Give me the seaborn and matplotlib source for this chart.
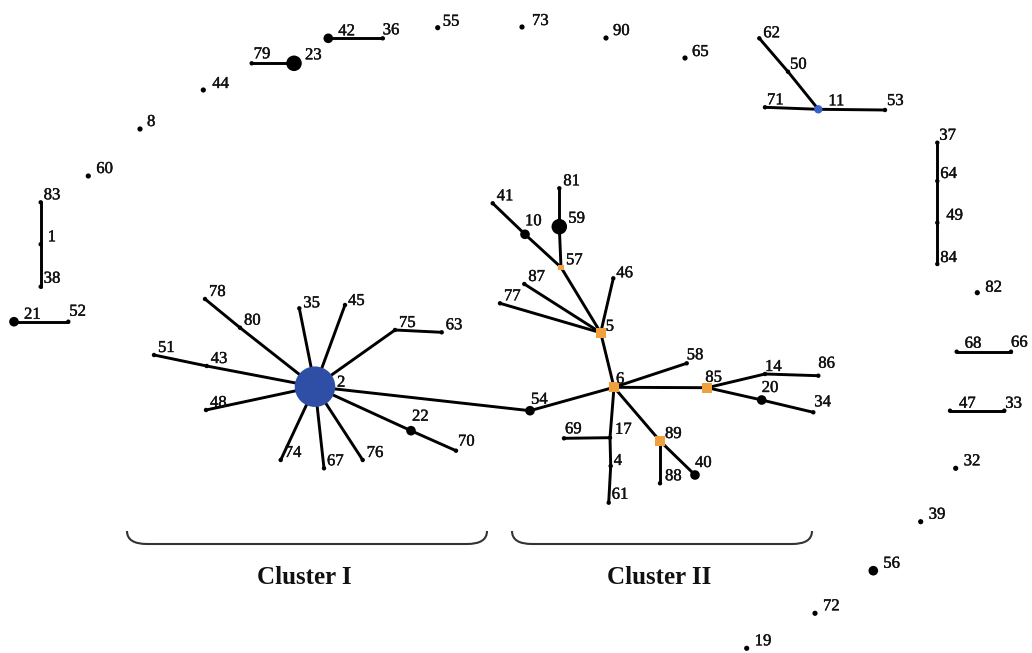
import matplotlib
matplotlib.use("Agg")
import matplotlib.pyplot as plt
import matplotlib.patheffects as pe
from matplotlib.path import Path
from matplotlib.patches import PathPatch
import pandas as pd
import seaborn as sns

# node ids, layout position (pixels) and node kind
node_ids = ['55', '42', '36', '79', '23', '44', '8', '60', '83', '1', '38', '21', '52',
            '73', '90', '65', '62', '50', '71', '11', '53',
            '37', '64', '49', '84', '82', '68', '66', '47', '33', '32', '39', '56', '72', '19',
            '2', '78', '80', '35', '45', '75', '63', '51', '43', '48', '74', '67', '76', '22', '70',
            '54', '6', '5', '57', '41', '10', '81', '59', '46', '87', '77', '58', '85', '14', '86',
            '20', '34', '17', '69', '4', '61', '89', '88', '40']
node_x = [437.7, 328.3, 382.7, 251.7, 294, 203.3, 140, 88.3, 40.7, 40.7, 40.7, 14, 68.3,
          522, 606, 685, 759.3, 788, 765, 818.3, 885,
          937.3, 937.3, 937.3, 937.3, 977.3, 956.7, 1011, 950, 1004.3, 955.7, 920.7, 873.3, 815, 746.7,
          315, 205, 240, 299.3, 345, 395, 441.7, 154, 206.7, 206, 280.7, 324, 362.7, 411, 456,
          530, 614, 600.7, 561, 492.7, 525, 559.3, 559.3, 613.3, 524.3, 500, 686.7, 707.3, 765, 818.3,
          761.7, 813.3, 610, 564, 610.7, 608.7, 660, 660, 695]
node_y = [27.7, 38.3, 38.3, 63.3, 63.3, 90, 129, 176, 202.3, 244.3, 286.7, 321.7, 321.7,
          27, 38, 58, 38.3, 71.7, 107.3, 109.3, 110,
          142.7, 181, 222.7, 264, 292.7, 351.7, 351.7, 410.7, 410.7, 468.3, 521.7, 570.7, 613.3, 648.3,
          386.7, 299, 327.7, 308.3, 305, 330, 332.3, 355, 366, 410, 460, 468.3, 460, 430.7, 450.7,
          410.7, 387.3, 332.7, 267.3, 203.3, 234.3, 188.3, 226.7, 278.3, 284, 303.3, 363.3, 387.7, 374, 375.7,
          400, 412.3, 437.7, 438.3, 466, 502.7, 441, 483.3, 475]
node_kind = ['dot', 'mid', 'end', 'end', 'big', 'dot', 'dot', 'dot', 'end', 'end', 'end', 'mid', 'end',
             'dot', 'dot', 'dot', 'end', 'end', 'end', 'blue', 'end',
             'end', 'end', 'end', 'end', 'dot', 'end', 'end', 'end', 'end', 'dot', 'dot', 'mid', 'dot', 'dot',
             'hub', 'end', 'end', 'end', 'end', 'end', 'end', 'end', 'end', 'end', 'end', 'end', 'end', 'mid', 'end',
             'mid', 'orange', 'orange', 'orange_s', 'end', 'mid', 'end', 'big', 'end', 'end', 'end', 'end', 'orange', 'end', 'end',
             'mid', 'end', 'end', 'end', 'end', 'end', 'orange', 'end', 'mid']

edge_from = ['42', '79', '83', '1', '21', '62', '50', '71', '11', '37', '64', '49', '68', '47',
             '2', '80', '2', '2', '2', '75', '2', '43', '2', '2', '2', '2', '2', '22', '2',
             '54', '6', '5', '57', '10', '57', '59', '5', '5', '5', '6', '6', '85', '14', '85', '20',
             '6', '17', '17', '4', '6', '89', '89']
edge_to = ['36', '23', '1', '38', '52', '50', '11', '11', '53', '64', '49', '84', '66', '33',
           '80', '78', '35', '45', '75', '63', '43', '51', '48', '74', '67', '76', '22', '70', '54',
           '6', '5', '57', '10', '41', '59', '81', '46', '87', '77', '58', '85', '14', '86', '20', '34',
           '17', '69', '4', '61', '89', '88', '40']

cluster_names = ['Cluster I', 'Cluster II']
cluster_span = [(127, 487), (512, 812)]

nodes = pd.DataFrame({'id': node_ids, 'x': node_x, 'y': node_y, 'kind': node_kind})
pos = nodes.set_index('id')[['x', 'y']]

kind_size = {'dot': 14, 'end': 10, 'mid': 48, 'big': 125, 'hub': 850,
             'blue': 36, 'orange': 48, 'orange_s': 16}
kind_color = {'dot': 'black', 'end': 'black', 'mid': 'black', 'big': 'black',
              'hub': '#2f4fa6', 'blue': '#3563c9', 'orange': '#f0a03c', 'orange_s': '#f0a03c'}
kind_marker = {'dot': 'o', 'end': 'o', 'mid': 'o', 'big': 'o', 'hub': 'o',
               'blue': 'o', 'orange': 's', 'orange_s': 's'}

# label nudges (pixels from node, left edge of text); default below
default_nudge = (4, -7)
label_nudge = {'2': (22, -4), '23': (11, -8), '59': (9, -8), '10': (0, -13), '57': (5, -7),
               '5': (5, -6), '6': (2, -8), '85': (-2, -10), '20': (0, -12), '40': (0, -12),
               '22': (1, -14), '11': (10, -8), '53': (2, -9), '71': (2, -7), '62': (4, -5),
               '50': (2, -7), '86': (0, -12), '33': (1, -7), '66': (0, -9), '68': (8, -8),
               '47': (9, -7), '14': (0, -7), '34': (1, -10), '17': (5, -8), '4': (3, -5),
               '1': (7, -7), '8': (7, -7), '42': (10, -7), '36': (0, -8), '79': (2, -9),
               '21': (10, -7), '52': (1, -10), '83': (3, -7), '38': (3, -8), '37': (2, -7),
               '64': (3, -7), '49': (9, -7), '84': (3, -6), '82': (8, -5), '44': (9, -6),
               '60': (8, -7), '55': (5, -6), '73': (10, -6), '90': (7, -7), '65': (7, -6),
               '32': (8, -7), '39': (8, -7), '56': (10, -7), '72': (8, -7), '19': (8, -7),
               '61': (3, -8), '89': (5, -7), '88': (5, -7), '74': (4, -7), '67': (3, -7),
               '76': (4, -7), '35': (4, -5), '45': (3, -4), '70': (2, -9), '54': (1, -11),
               '69': (1, -9), '58': (0, -8), '46': (3, -5)}

sns.set_style('white')
plt.rcParams['font.family'] = ['Liberation Serif', 'DejaVu Serif']

fig = plt.figure(figsize=(10.32, 6.53), dpi=100)
ax = fig.add_axes([0, 0, 1, 1])

for a, b in zip(edge_from, edge_to):
    ax.plot([pos.loc[a, 'x'], pos.loc[b, 'x']], [pos.loc[a, 'y'], pos.loc[b, 'y']],
            color='black', lw=2.1, zorder=1, solid_capstyle='round')

sns.scatterplot(data=nodes, x='x', y='y', hue='kind', size='kind', style='kind',
                palette=kind_color, sizes=kind_size, markers=kind_marker,
                edgecolor='none', linewidth=0, legend=False, ax=ax, zorder=2)

thick = [pe.withStroke(linewidth=0.3, foreground='#111111')]
for _, r in nodes.iterrows():
    dx, dy = label_nudge.get(r['id'], default_nudge)
    ax.text(r['x'] + dx, r['y'] + dy, r['id'], fontsize=12, ha='left', va='center',
            color='#111111', zorder=3, path_effects=thick)

# braces under the two clusters
for name, (x0, x1) in zip(cluster_names, cluster_span):
    top, bot, r = 531, 544, 20
    verts = [(x0, top), (x0, bot), (x0 + r, bot), (x0 + r, bot),
             (x1 - r, bot), (x1, bot), (x1, top)]
    codes = [Path.MOVETO, Path.CURVE3, Path.CURVE3, Path.LINETO,
             Path.LINETO, Path.CURVE3, Path.CURVE3]
    ax.add_patch(PathPatch(Path(verts, codes), fill=False, lw=1.5, edgecolor='#333333'))
    ax.text((x0 + x1) / 2 - 3, 577, name, fontsize=18, fontweight='bold',
            ha='center', va='center', color='#111111')

ax.set_xlim(0, 1032)
ax.set_ylim(653, 0)
ax.axis('off')
fig.savefig('out.png', dpi=100, facecolor='white')
